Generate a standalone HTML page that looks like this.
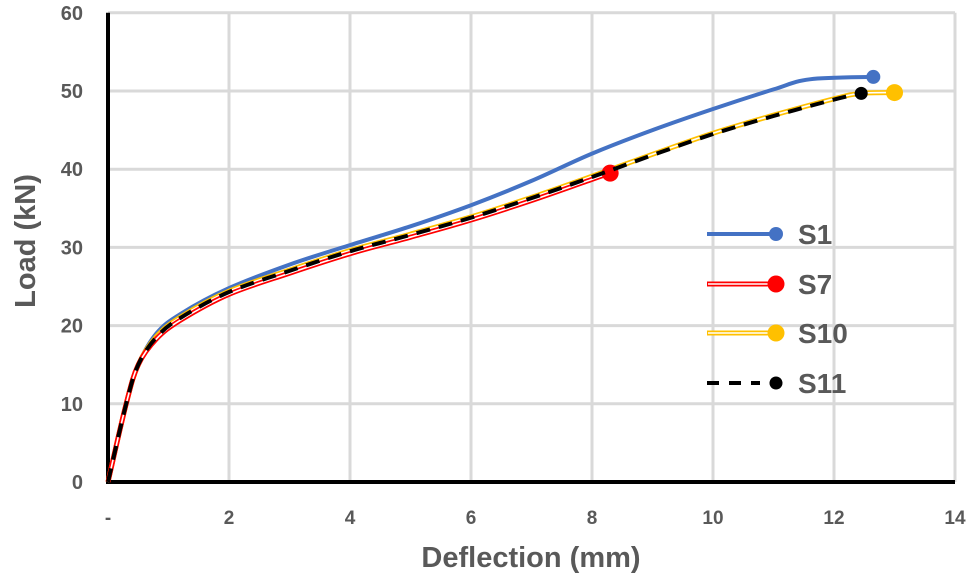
<!DOCTYPE html>
<html><head><meta charset="utf-8"><style>
body{margin:0;background:#fff;}
svg text{font-family:"Liberation Sans",sans-serif;font-weight:bold;fill:#595959;}
</style></head><body>
<svg id="c" width="975" height="579"></svg>
<script>
const xTicks=[0,2,4,6,8,10,12,14];
const xTickLabels=["-","2","4","6","8","10","12","14"];
const yTicks=[0,10,20,30,40,50,60];
const s1x=[0,0.3,0.5,0.8,1.2,2,3,4,5,6,7,8,9,10,11,11.6,12.65];
const s1y=[0,10,15,19,21.5,24.8,27.8,30.3,32.7,35.4,38.5,42,45,47.7,50.2,51.5,51.8];
const s7x=[0,0.3,0.5,0.8,1.2,2,3,4,5,6,7,8,8.3];
const s7y=[0,10,15,18.3,20.7,24,26.7,29.2,31.3,33.5,36,38.7,39.5];
const s10x=[0,0.3,0.5,0.8,1.2,2,3,4,5,6,7,8,9,10,11,12,12.45,13];
const s10y=[0,10,15,18.6,21.1,24.4,27.1,29.6,31.7,33.9,36.4,39.1,41.9,44.6,46.9,49,49.7,49.8];
const s11x=[0,0.3,0.5,0.8,1.2,2,3,4,5,6,7,8,9,10,11,12,12.45];
const s11y=[0,10,15,18.5,21,24.3,27,29.5,31.6,33.8,36.3,39,41.8,44.5,46.8,48.9,49.7];
const NS="http://www.w3.org/2000/svg";
const svg=document.getElementById('c');
const X=v=>108+v*60.5, Y=v=>482-v*7.82;
function mk(t,a,p){const e=document.createElementNS(NS,t);for(const k in a)e.setAttribute(k,a[k]);(p||svg).appendChild(e);return e;}
xTicks.forEach((t,i)=>{
 if(i>0){const g=mk('line',{x1:X(t),x2:X(t),y1:Y(60),y2:Y(0),stroke:'#d9d9d9','stroke-width':3});
 
 }
 const l=mk('text',{x:X(t),y:524,'text-anchor':'middle','font-size':19});l.textContent=xTickLabels[i];
 
 
});
yTicks.forEach(t=>{
 if(t>0){const g=mk('line',{x1:X(0),x2:X(14),y1:Y(t),y2:Y(t),stroke:'#d9d9d9','stroke-width':3});
 
 }
 const l=mk('text',{x:83,y:Y(t)+7,'text-anchor':'end','font-size':20});l.textContent=t;
 
 
});
const ax=mk('path',{d:`M${X(0)} ${Y(60)}V${Y(0)}H${X(14)}`,stroke:'#000','stroke-width':4,fill:'none'});


function smooth(xs,ys){
 const P=xs.map((x,i)=>[X(x),Y(ys[i])]);
 let d=`M${P[0][0].toFixed(1)} ${P[0][1].toFixed(1)}`;
 for(let i=0;i<P.length-1;i++){
  const p0=P[Math.max(0,i-1)],p1=P[i],p2=P[i+1],p3=P[Math.min(P.length-1,i+2)];
  const c1=[p1[0]+(p2[0]-p0[0])/6,p1[1]+(p2[1]-p0[1])/6];
  const c2=[p2[0]-(p3[0]-p1[0])/6,p2[1]-(p3[1]-p1[1])/6];
  d+=`C${c1[0].toFixed(1)} ${c1[1].toFixed(1)} ${c2[0].toFixed(1)} ${c2[1].toFixed(1)} ${p2[0].toFixed(1)} ${p2[1].toFixed(1)}`;
 }
 return d;
}
function series(name,xs,ys,color,style,mr){
 const g=mk('g',{});
 
 
 const d=smooth(xs,ys);
 if(style==='solid')mk('path',{d,fill:'none',stroke:color,'stroke-width':4,'stroke-linejoin':'round'},g);
 else if(style==='double'){mk('path',{d,fill:'none',stroke:color,'stroke-width':5,'stroke-linejoin':'round'},g);mk('path',{d,fill:'none',stroke:'#fff','stroke-width':1.6,'stroke-linejoin':'round'},g);}
 else mk('path',{d,fill:'none',stroke:color,'stroke-width':4,'stroke-dasharray':'14 9'},g);
 const n=xs.length-1;
 mk('circle',{cx:X(xs[n]),cy:Y(ys[n]),r:mr,fill:color},g);
}
series('series-s1',s1x,s1y,'#4472c4','solid',7);
series('series-s10',s10x,s10y,'#ffc000','double',8.5);
series('series-s7',s7x,s7y,'#ff0000','double',8.5);
series('series-s11',s11x,s11y,'#000','dash',6.5);
const leg=[['S1','#4472c4','solid',7,234],['S7','#ff0000','double',8.5,284],['S10','#ffc000','double',8.5,333],['S11','#000','dash',6.5,383]];
leg.forEach(l=>{
 const g=mk('g',{});
 
 
 const d=`M707 ${l[4]}H776`;
 if(l[2]==='solid')mk('path',{d,stroke:l[1],'stroke-width':4},g);
 else if(l[2]==='double'){mk('path',{d,stroke:l[1],'stroke-width':5},g);mk('path',{d:`M708 ${l[4]}H776`,stroke:'#fff','stroke-width':1.6},g);}
 else mk('path',{d:`M707 ${l[4]}H760`,stroke:l[1],'stroke-width':4,'stroke-dasharray':'12 10'},g);
 mk('circle',{cx:776,cy:l[4],r:l[3],fill:l[1]},g);
 const t=mk('text',{x:798,y:l[4]+10,'font-size':28},g);t.textContent=l[0];
});
const xt=mk('text',{x:531,y:567,'text-anchor':'middle','font-size':29});xt.textContent='Deflection (mm)';


const yt=mk('text',{x:0,y:0,'text-anchor':'middle','font-size':29,transform:'translate(35,241) rotate(-90)'});yt.textContent='Load (kN)';


</script>
</body></html>
